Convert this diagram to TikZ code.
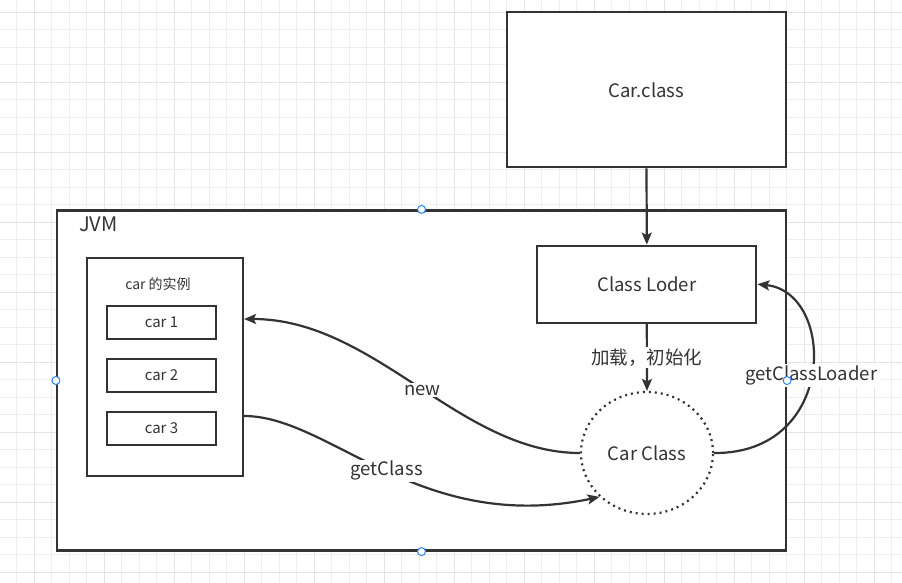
\documentclass[tikz,border=0pt]{standalone}
\usepackage{fontspec}
\setmainfont{Noto Sans CJK SC}
\usetikzlibrary{arrows.meta,shapes.geometric}
\definecolor{ink}{HTML}{333333}
\definecolor{gridminor}{HTML}{EEEEEE}
\definecolor{gridmajor}{HTML}{E4E4E4}
\definecolor{handle}{HTML}{2A85FF}
\tikzset{
  box/.style={draw=ink, line width=2.2pt, fill=white, text=ink, inner sep=0pt},
  conn/.style={draw=ink, line width=2.2pt, -{Stealth[length=12pt,width=10pt,inset=2.5pt]}},
  lbl/.style={fill=white, text=ink, inner sep=1.5pt, font=\fontsize{18.5}{20}\selectfont},
  handlept/.style={circle, draw=handle, fill=white, line width=1pt, minimum size=8pt, inner sep=0pt},
}
\begin{document}
\begin{tikzpicture}[x=1pt,y=-1pt]
\useasboundingbox (0,0) rectangle (902,583);
\fill[white] (0,0) rectangle (902,583);
% grid
\foreach \i in {0,...,51}{
  \pgfmathtruncatemacro{\m}{mod(\i+3,4)}
  \ifnum\m=0
    \draw[gridmajor, line width=1.3pt] (16.7+17.5*\i,0) -- (16.7+17.5*\i,583);
  \else
    \draw[gridminor, line width=1pt] (16.7+17.5*\i,0) -- (16.7+17.5*\i,583);
  \fi
}
\foreach \j in {0,...,33}{
  \pgfmathtruncatemacro{\m}{mod(\j,4)}
  \ifnum\m=0
    \draw[gridmajor, line width=1.3pt] (0,12.3+17.5*\j) -- (902,12.3+17.5*\j);
  \else
    \draw[gridminor, line width=1pt] (0,12.3+17.5*\j) -- (902,12.3+17.5*\j);
  \fi
}
% boxes
\node[box, minimum width=279pt, minimum height=155pt, font=\fontsize{18.5}{20}\selectfont] (carfile) at (646.5,89.8) {Car.class};
\node[box, minimum width=729pt, minimum height=340pt] (jvm) at (421.5,380.5) {};
\node[text=ink, font=\fontsize{20}{22}\selectfont, anchor=west, inner sep=0pt] (jvmtxt) at (79,224) {JVM};
\node[box, minimum width=156pt, minimum height=218pt] (carinst) at (165,367) {};
\node[text=ink, font=\fontsize{14}{16}\selectfont, inner sep=0pt] (insttxt) at (158,284) {car 的实例};
\node[box, minimum width=109pt, minimum height=33pt, font=\fontsize{15}{17}\selectfont] (car1) at (161.5,322.6) {car 1};
\node[box, minimum width=109pt, minimum height=33pt, font=\fontsize{15}{17}\selectfont] (car2) at (161.5,375.5) {car 2};
\node[box, minimum width=109pt, minimum height=33pt, font=\fontsize{15}{17}\selectfont] (car3) at (161.5,428.5) {car 3};
\node[box, minimum width=219pt, minimum height=77pt, font=\fontsize{18.5}{20}\selectfont] (loader) at (646.8,284.2) {Class Loder};
\node[ellipse, draw=ink, line width=2.2pt, dash pattern=on 2pt off 4pt, fill=white, text=ink,
      minimum width=132pt, minimum height=122pt, inner sep=0pt, font=\fontsize{18.5}{20}\selectfont] (carcls) at (647,453) {Car Class};
% connectors
\draw[conn] (carfile.south) -- (loader.north);
\draw[conn] (loader.south) -- node[lbl, pos=0.5] {加载，初始化} (carcls.north);
\draw[conn] (carcls.west) .. controls (460,453) and (375,319) .. node[lbl, pos=0.48] {new} ([yshift=48pt]carinst.east);
\draw[conn] ([yshift=-49pt]carinst.east) .. controls (330,416) and (420,535) .. node[lbl, pos=0.5] {getClass} (carcls.south west);
\draw[conn] (carcls.east) .. controls (838,454) and (836,292) .. node[lbl, pos=0.485] {getClassLoader} (loader.east);
% selection handles
\node[handlept] (h1) at (jvm.north) {};
\node[handlept] (h2) at (jvm.south) {};
\node[handlept] (h3) at (jvm.west) {};
\node[handlept] (h4) at (jvm.east) {};
\end{tikzpicture}
\end{document}
